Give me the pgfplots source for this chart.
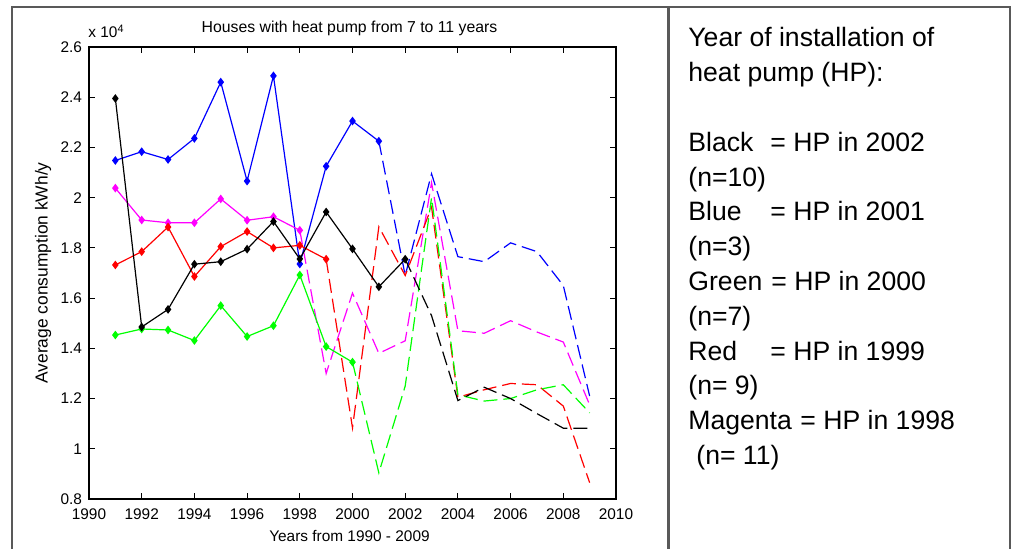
\documentclass[border=0pt]{standalone}
\usepackage{fontspec}
\setmainfont{Liberation Sans}
\usepackage{pgfplots}
\pgfplotsset{compat=1.18}
\definecolor{framegray}{gray}{0.35}
\definecolor{mblue}{rgb}{0,0,1}
\definecolor{mred}{rgb}{1,0,0}
\definecolor{mgreen}{rgb}{0,1,0}
\definecolor{mmag}{rgb}{1,0,1}

\begin{document}
\begin{tikzpicture}[x=1pt,y=1pt]
\path[use as bounding box] (0,0) rectangle (505.5,274.5);
% table frame around chart and notes
\draw[framegray, line width=1pt] (6,0) -- (6,271) -- (505,271) -- (505,0);
\draw[framegray, line width=1.3pt] (334.2,0) -- (334.2,271);

\begin{axis}[
	at={(44.5pt,25pt)}, anchor=south west,
	scale only axis, width=263.5pt, height=226pt,
	xmin=1990, xmax=2010,
	ymin=0.8, ymax=2.6,
	xtick={1990,1992,...,2010},
	ytick={0.8,1,1.2,1.4,1.6,1.8,2,2.2,2.4,2.6},
	tick align=inside,
	major tick length=3pt,
	every tick/.style={black, line width=0.5pt},
	axis line style={line width=0.6pt},
	/pgf/number format/assume math mode=true,
	/pgf/number format/1000 sep={},
	ticklabel style={font=\fontsize{7.7}{9}\selectfont},
	xticklabel style={yshift=-1.5pt},
	title={Houses with heat pump from 7 to 11 years},
	every axis title/.style={at={(axis description cs:0.5,1)}, anchor=base, yshift=7.3pt, xshift=-1.5pt, font=\fontsize{7.9}{9}\selectfont},
	xlabel={Years from 1990 - 2009},
	xlabel style={at={(axis description cs:0.5,0)}, anchor=base, yshift=-21.5pt, xshift=-1.5pt, font=\fontsize{7.7}{9}\selectfont},
	ylabel={Average consumption kWh/y},
	ylabel style={at={(axis description cs:-0.087,0.5)}, anchor=center, font=\fontsize{8.7}{10}\selectfont},
	clip mode=individual,
	solidline/.style={line width=0.6pt, mark=diamond*, mark size=1.7pt},
	dashline/.style={line width=0.6pt, dash pattern=on 7pt off 3pt},
]

% after installation (dashed)
\addplot[dashline, mblue] coordinates {
(2001,2.225)(2002,1.69)(2003,2.095)(2004,1.765)(2005,1.745)(2006,1.82)(2007,1.785)(2008,1.65)(2009,1.21)
};
\addplot[dashline, mmag] coordinates {
(1998,1.87)(1999,1.30)(2000,1.62)(2001,1.38)(2002,1.43)(2003,2.06)(2004,1.47)(2005,1.46)(2006,1.51)(2007,1.465)(2008,1.425)(2009,1.175)
};
\addplot[dashline, mred] coordinates {
(1999,1.755)(2000,1.083)(2001,1.884)(2002,1.69)(2003,1.962)(2004,1.205)(2005,1.235)(2006,1.26)(2007,1.255)(2008,1.17)(2009,0.865)
};
\addplot[dashline, mgreen] coordinates {
(2000,1.345)(2001,0.904)(2002,1.25)(2003,2.0)(2004,1.215)(2005,1.19)(2006,1.20)(2007,1.235)(2008,1.255)(2009,1.143)
};
\addplot[dashline, black] coordinates {
(2002,1.755)(2003,1.53)(2004,1.192)(2005,1.245)(2006,1.20)(2007,1.14)(2008,1.082)(2009,1.082)
};

% before installation (solid with markers)
\addplot[solidline, mblue] coordinates {
(1991,2.148)(1992,2.183)(1993,2.152)(1994,2.236)(1995,2.46)(1996,2.066)(1997,2.485)(1998,1.736)(1999,2.125)(2000,2.305)(2001,2.225)
};
\addplot[solidline, mmag] coordinates {
(1991,2.038)(1992,1.911)(1993,1.90)(1994,1.90)(1995,1.995)(1996,1.91)(1997,1.924)(1998,1.87)
};
\addplot[solidline, mred] coordinates {
(1991,1.732)(1992,1.785)(1993,1.883)(1994,1.686)(1995,1.805)(1996,1.865)(1997,1.80)(1998,1.81)(1999,1.755)
};
\addplot[solidline, mgreen] coordinates {
(1991,1.453)(1992,1.477)(1993,1.473)(1994,1.431)(1995,1.57)(1996,1.447)(1997,1.49)(1998,1.692)(1999,1.407)(2000,1.345)
};
\addplot[solidline, black] coordinates {
(1991,2.395)(1992,1.485)(1993,1.555)(1994,1.735)(1995,1.745)(1996,1.795)(1997,1.905)(1998,1.756)(1999,1.943)(2000,1.796)(2001,1.645)(2002,1.755)
};

\node[anchor=base west, inner sep=0, xshift=-0.5pt, yshift=4.5pt, font=\fontsize{7.7}{9}\selectfont] at (rel axis cs:0,1) {x 10\textsuperscript{4}};
\end{axis}

% notes column
\begin{scope}[every node/.style={anchor=base west, inner sep=0, font=\fontsize{13.3}{16}\selectfont}]
\node at (344,251.0) {Year of installation of};
\node at (344,233.6) {heat pump (HP):};
\node at (344,198.8) {Black};  \node at (385,198.8) {= HP in 2002};
\node at (344,181.4) {(n=10)};
\node at (344,164.0) {Blue};   \node at (385,164.0) {= HP in 2001};
\node at (344,146.6) {(n=3)};
\node at (344,129.2) {Green};  \node at (385.5,129.2) {= HP in 2000};
\node at (344,111.8) {(n=7)};
\node at (344,94.4)  {Red};    \node at (385,94.4) {= HP in 1999};
\node at (344,77.0)  {(n= 9)};
\node at (344,59.6)  {Magenta}; \node at (400,59.6) {= HP in 1998};
\node at (348,42.2)  {(n= 11)};
\end{scope}
\end{tikzpicture}
\end{document}
